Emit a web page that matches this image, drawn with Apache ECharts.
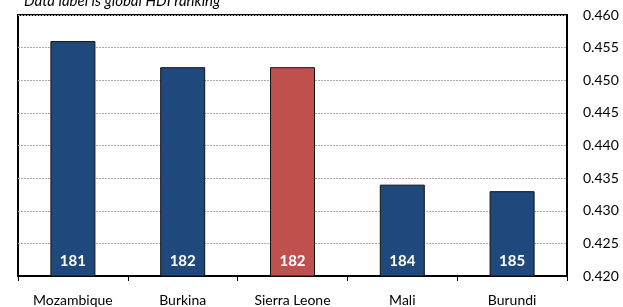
<!DOCTYPE html>
<html>
<head>
<meta charset="utf-8">
<script src="https://cdn.jsdelivr.net/npm/echarts@6/dist/echarts.min.js"></script>
<style>
  html, body { margin: 0; padding: 0; background: #fff; }
  #chart { width: 623px; height: 307px; }
</style>
</head>
<body>
<div id="chart"></div>
<script>
// countries and HDI values
var categories = ["Mozambique", "Burkina", "Sierra Leone", "Mali", "Burundi"];
var hdiValues = [0.456, 0.452, 0.452, 0.434, 0.433];
// global HDI ranking shown as data label
var rankLabels = [181, 182, 182, 184, 185];
var highlightIndex = 2;

var FONT = "Lato, 'Liberation Sans', sans-serif";

var chart = echarts.init(document.getElementById("chart"));

var barData = hdiValues.map(function (v, i) {
  return {
    value: v,
    itemStyle: { color: i === highlightIndex ? "#c0504d" : "#1f497d" }
  };
});

chart.setOption({
  animation: false,
  textStyle: { fontFamily: FONT },
  title: {
    text: "Data label is global HDI ranking",
    left: 19,
    top: -11,
    textStyle: { fontFamily: FONT, fontStyle: "italic", fontWeight: "normal", fontSize: 15, color: "#000" }
  },
  grid: {
    left: 18,
    right: 56,
    top: 15,
    bottom: 30,
    show: true,
    borderColor: "#000",
    borderWidth: 2,
    backgroundColor: "#fff"
  },
  xAxis: {
    type: "category",
    data: categories,
    axisLine: { lineStyle: { color: "#000", width: 2 } },
    axisTick: { show: true, length: 5, lineStyle: { color: "#000", width: 1 } },
    axisLabel: { color: "#000", fontSize: 14, margin: 17, fontFamily: FONT }
  },
  yAxis: {
    type: "value",
    position: "right",
    min: 0.42,
    max: 0.46,
    interval: 0.005,
    axisLine: { show: false },
    axisTick: { show: false },
    axisLabel: {
      color: "#000",
      fontSize: 14,
      margin: 16,
      fontFamily: FONT,
      formatter: function (v) { return v.toFixed(3); }
    },
    splitLine: { lineStyle: { color: "#aaa", type: [2, 1], width: 1 } }
  },
  series: [{
    type: "bar",
    data: barData,
    barWidth: 45,
    itemStyle: { borderColor: "#111", borderWidth: 1 },
    label: {
      show: true,
      position: "insideBottom",
      distance: 8,
      color: "#fff",
      fontWeight: "bold",
      fontSize: 15,
      fontFamily: FONT,
      formatter: function (p) { return rankLabels[p.dataIndex]; }
    }
  }]
});
</script>
</body>
</html>
